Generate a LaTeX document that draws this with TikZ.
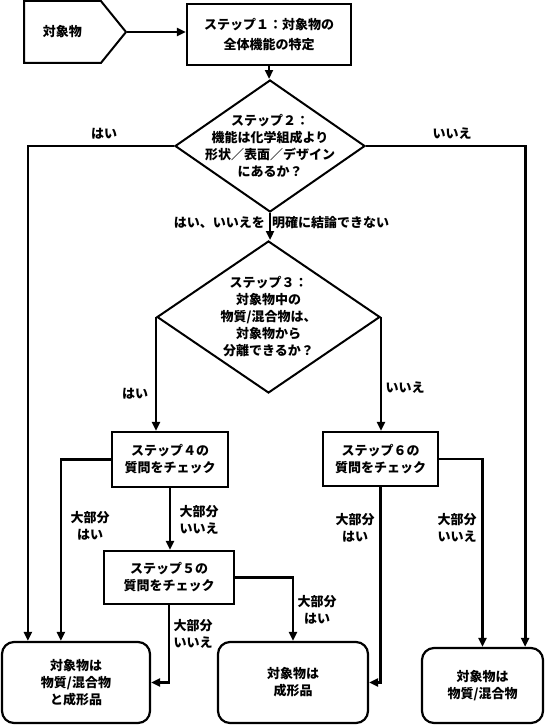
\documentclass[tikz,border=0pt]{standalone}
\usepackage{fontspec}
\setmainfont{Noto Sans CJK JP}
\usetikzlibrary{arrows.meta,positioning,shapes.geometric,shapes.symbols,calc}
\tikzset{
  txt/.style={align=center, inner sep=0pt, font=\fontsize{13}{17}\selectfont\bfseries},
  box/.style={txt, rectangle, draw=black, line width=2.2pt},
  inbox/.style={txt, signal, signal to=east, signal pointer angle=102, draw=black, line width=2pt},
  decision/.style={diamond, draw=black, line width=2pt, inner sep=0pt},
  endbox/.style={box, rounded corners=12pt},
  lbl/.style={txt},
  flow/.style={-{Triangle[length=9pt,width=8pt]}, draw=black, line width=2.8pt}
}
\begin{document}
\begin{tikzpicture}[x=1pt, y=-1pt]
\useasboundingbox (0,0) rectangle (545,725);

% --- input and step 1
\node[inbox, anchor=west, minimum width=102pt, minimum height=62pt] (obj) at (23,32) {対象物};
\node[box, minimum width=164pt, minimum height=61pt] (s1) at (269,34.5) {ステップ１：対象物の\\[3pt]全体機能の特定};

% --- step 2
\node[decision, minimum width=190pt, minimum height=132pt] (s2) at (270,146) {};
\node[txt] (s2t) at (s2) {ステップ２：\\機能は化学組成より\\形状／表面／デザイン\\にあるか？};

% --- step 3
\node[decision, minimum width=223pt, minimum height=152pt] (s3) at (268.5,317) {};
\node[txt] (s3t) at (s3) {ステップ３：\\対象物中の\\物質/混合物は、\\対象物から\\分離できるか？};

% --- steps 4 to 6
\node[box, minimum width=116pt, minimum height=55pt] (s4) at (170,459.5) {ステップ４の\\質問をチェック};
\node[box, minimum width=115pt, minimum height=54pt] (s6) at (380.5,459) {ステップ６の\\質問をチェック};
\node[box, minimum width=130pt, minimum height=53pt] (s5) at (169,577.5) {ステップ５の\\質問をチェック};

% --- outcomes
\node[endbox, minimum width=148pt, minimum height=81pt] (mix) at (76,682.5) {対象物は\\物質/混合物\\と成形品};
\node[endbox, minimum width=150pt, minimum height=81pt] (art) at (293,682.5) {対象物は\\成形品};
\node[endbox, minimum width=121pt, minimum height=75pt] (sub) at (482.5,685.5) {対象物は\\物質/混合物};

\draw[flow] (obj.east) -- (obj.east -| s1.west);
\draw[flow] (s1.south) -- (s1.south |- s2.north);
\draw[flow] (s2.west) -| ($(mix.north west)+(27,0)$);
\draw[flow] (s2.east) -| ($(sub.north east)+(-19,0)$);
\draw[flow] (s2.south) -- (s2.south |- s3.north);
\draw[flow] (s3.west) -- (s3.west |- s4.north);
\draw[flow] (s3.east) -- (s3.east |- s6.north);
\draw[flow] (s4.west) -| ($(mix.north west)+(60,0)$);
\draw[flow] (s4.south) -- (s4.south |- s5.north);
\draw[flow] (s5.east) -| (art.north);
\draw[flow] (s5.south) |- (mix.east);
\draw[flow] (s6.south) |- (art.east);
\draw[flow] (s6.east) -| (sub.north);

% --- labels
\node[lbl] (yes2) at (104,134) {はい};
\node[lbl] (no2) at (452,134) {いいえ};
\node[lbl, anchor=east] (vague1) at (265,223) {はい、いいえを};
\node[lbl, anchor=west] (vague2) at (272,223) {明確に結論できない};
\node[lbl] (yes3) at (135,394) {はい};
\node[lbl] (no3) at (405,388) {いいえ};
\node[lbl] (s4yes) at (90,526) {大部分\\はい};
\node[lbl] (s4no) at (199,520) {大部分\\いいえ};
\node[lbl] (s5no) at (193,634) {大部分\\いいえ};
\node[lbl] (s5yes) at (317,610) {大部分\\はい};
\node[lbl] (s6yes) at (355,528) {大部分\\はい};
\node[lbl] (s6no) at (457,528) {大部分\\いいえ};
\end{tikzpicture}
\end{document}
